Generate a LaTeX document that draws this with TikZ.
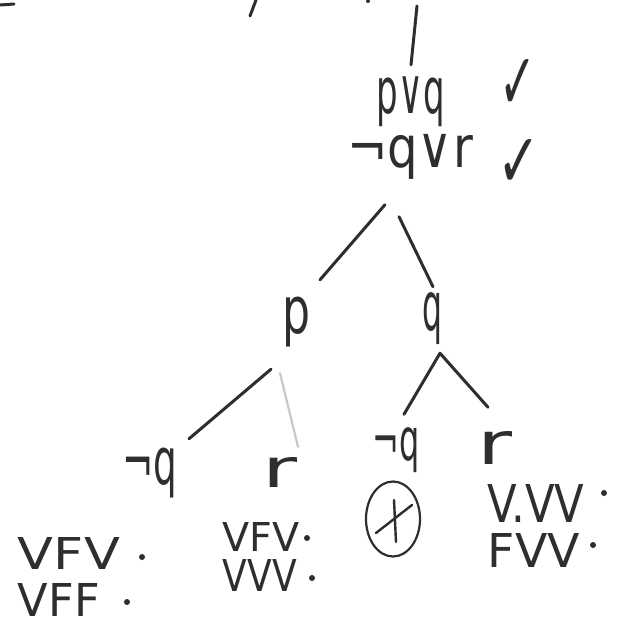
\documentclass[tikz,border=0pt]{standalone}
\usepackage{fontspec}
\setmainfont{DejaVu Sans}
\usepackage{graphicx}
\usetikzlibrary{calc,shapes.geometric}
\definecolor{ink}{HTML}{2E2E2E}
\definecolor{pencil}{HTML}{C8C8C8}
\newcommand{\hw}[3]{\resizebox*{#1pt}{#2pt}{#3}}
\begin{document}
\begin{tikzpicture}[x=1pt,y=-1pt,
  lbl/.style={inner sep=0pt, text=ink},
  edge/.style={draw=ink, line width=3pt, line cap=round, line join=round},
  faint/.style={draw=pencil, line width=2.2pt, line cap=round},
  dotm/.style={circle, fill=ink, inner sep=0pt, minimum size=6pt},
  circx/.style={draw=ink, line width=2.2pt, ellipse, inner sep=0pt, minimum width=54pt, minimum height=75pt},
]
\fill[white] (0,0) rectangle (621,634);
\useasboundingbox (0,0) rectangle (621,634);

% cut-off strokes at the top edge
\draw[edge] (0,5) -- (14,4);
\draw[edge] (256,0) -- (250,16);
\fill[ink] (368,1) circle (2);

\coordinate (top) at (417,6);
\node[lbl] (r1) at (411,102) {\hw{68}{50}{p∨q}};
\node[lbl] (c1) at (518,84) {\hw{37}{50}{✓}};
\node[lbl] (r2) at (410,157) {\hw{126}{45}{¬q∨r}};
\node[lbl] (c2) at (519,163) {\hw{43}{48}{✓}};
\node[lbl] (p) at (296,322) {\hw{28}{50}{p}};
\node[lbl] (q) at (432,319) {\hw{20}{52}{q}};
\node[lbl] (nq1) at (150,473) {\hw{55}{50}{¬q}};
\node[lbl] (r3) at (280,472) {\hw{35}{30}{r}};
\node[lbl] (nq2) at (396,450) {\hw{47}{45}{¬q}};
\node[lbl] (r4) at (495,448) {\hw{35}{33}{r}};

% valuations
\node[lbl] (a1) at (69,553) {\hw{102}{32}{VFV}};
\node[dotm] (a1d) at (142,557) {};
\node[lbl] (a2) at (59,600) {\hw{82}{33}{VFF}};
\node[dotm] (a2d) at (127,602) {};
\node[lbl] (b1) at (261,537) {\hw{77}{29}{VFV}};
\node[dotm] (b1d) at (307,538) {};
\node[lbl] (b2) at (260,575) {\hw{74}{32}{VVV}};
\node[dotm] (b2d) at (312,578) {};
\node[circx] (cx) at (393,519) {};
\draw[edge, line width=2.4pt] ($(cx.center)+(1,-19)$) -- ($(cx.center)+(3,23)$);
\draw[edge, line width=2.4pt] ($(cx.center)+(-17,14)$) -- ($(cx.center)+(19,-14)$);
\node[lbl] (d1) at (536,503) {\hw{97}{38}{V.VV}};
\node[dotm] (d1d) at (604,493) {};
\node[lbl] (d2) at (534,550) {\hw{92}{34}{FVV}};
\node[dotm] (d2d) at (593,545) {};

% connectors
\draw[edge] (top) -- ($(r1.north)+(0,-12)$);
\draw[edge] ($(r2.south)+(-25,25)$) -- ($(p.north)+(24,-17)$);
\draw[edge] ($(r2.south)+(-11,37)$) -- ($(q.north)+(1,-6)$);
\draw[edge] ($(p.south)+(-25,22)$) -- ($(nq1.north)+(39,-9)$);
\draw[faint] ($(p.south)+(-16,26)$) -- ($(r3.north)+(18,-10)$);
\draw[edge] ($(nq2.north)+(8,-13)$) -- ($(q.south)+(8,8)$) -- ($(r4.north)+(-7,-24)$);
\end{tikzpicture}
\end{document}
